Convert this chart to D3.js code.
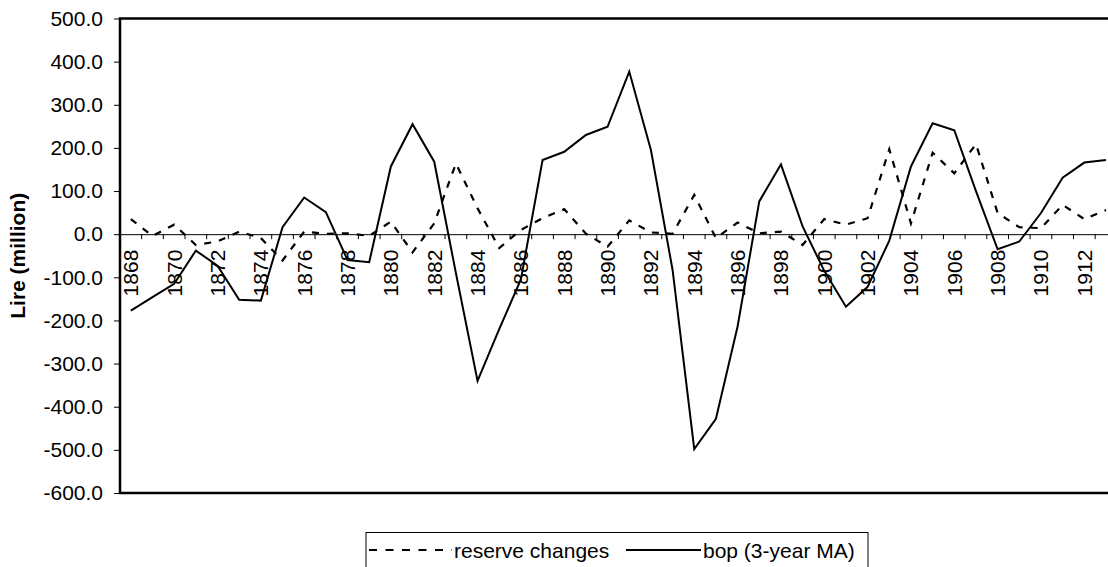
<!DOCTYPE html>
<html><head><meta charset="utf-8">
<script src="https://cdn.jsdelivr.net/npm/d3@7"></script>
<style>html,body{margin:0;padding:0;background:#fff;overflow:hidden}</style>
</head><body>
<svg id="c" width="1108" height="567"></svg>
<script>
const years = d3.range(1868, 1914);
const reserveChanges = [35,-4,22,-25,-17,6,-9,-61,6,1,2,-4,29,-42,25,164,60,-32,10,37,58,1,-29,32,4,1,91,-9,27,2,6,-25,35,22,37,197,25,189,141,209,49,16,14,68,35,56];
const bopMA = [-177,-146,-115,-38,-73,-152,-154,16,85,51,-60,-65,157,255,168,-90,-340,-220,-105,172,191,230,249,377,195,-83,-498,-428,-214,76,162,18,-85,-168,-122,-15,157,257,241,100,-35,-17,49,131,166,172];
const yTicks = [-600,-500,-400,-300,-200,-100,0,100,200,300,400,500];
const labelYears = years.filter((v,i)=>i%2===0);
const seriesNames = ["reserve changes","bop (3-year MA)"];

(function(){
const svg = d3.select("#c");
const font = "Arial, 'Liberation Sans', sans-serif";
const fs = 21;
const pLeft = 120, pTop = 18.5, pBottom = 493, step = 21.67;
const x = d3.scaleBand().domain(years).range([pLeft, pLeft + years.length*step]).paddingInner(0).paddingOuter(0);
const y = d3.scaleLinear().domain([-600,500]).range([pBottom, pTop]);
const cx = d => x(d) + x.bandwidth()/2;

// y axis
const yAxis = svg.append("g").attr("transform",`translate(${pLeft},0)`)
  .call(d3.axisLeft(y).tickValues(yTicks).tickFormat(d=>d.toFixed(1)).tickSizeInner(6).tickSizeOuter(0).tickPadding(11));
yAxis.select(".domain").remove();
yAxis.selectAll("line").attr("stroke","#000");
yAxis.selectAll("text").attr("font-family",font).attr("font-size",fs).attr("fill","#000");

// zero axis with category ticks
const xAxis = svg.append("g").attr("transform",`translate(0,${y(0)})`)
  .call(d3.axisBottom(x).tickValues([]).tickSizeOuter(0));
xAxis.select(".domain").attr("stroke","#000").attr("stroke-width",1);
const bounds = d3.range(years.length+1).map(i => pLeft + i*x.bandwidth());
xAxis.selectAll(".bt").data(bounds).enter().append("line").attr("class","bt")
  .attr("x1",d=>d).attr("x2",d=>d).attr("y1",0).attr("y2",5).attr("stroke","#000").attr("stroke-width",1);
xAxis.selectAll(".yl").data(labelYears).enter().append("text").attr("class","yl")
  .attr("transform",d=>`translate(${cx(d)+7.5},15.5) rotate(-90)`)
  .attr("text-anchor","end").attr("font-family",font).attr("font-size",fs).attr("fill","#000")
  .text(d=>d);

// frame
svg.append("path").attr("d",`M${pLeft+1000},${pTop} H${pLeft} V${pBottom} H${pLeft+1000}`)
  .attr("fill","none").attr("stroke","#000").attr("stroke-width",2.5);

// lines
const line = arr => d3.line().x((d,i)=>cx(years[i])).y(d=>y(d))(arr);
svg.append("path").attr("d",line(reserveChanges)).attr("fill","none").attr("stroke","#000")
  .attr("stroke-width",2.2).attr("stroke-dasharray","7,8");
svg.append("path").attr("d",line(bopMA)).attr("fill","none").attr("stroke","#000")
  .attr("stroke-width",2);

// y title
svg.append("text").attr("transform",`translate(25,${(pTop+pBottom)/2}) rotate(-90)`)
  .attr("text-anchor","middle").attr("font-family",font).attr("font-size",fs).attr("font-weight","bold")
  .attr("fill","#000").text("Lire (million)");

// legend
const lg = svg.append("g");
lg.append("rect").attr("x",366).attr("y",532.5).attr("width",502).attr("height",60)
  .attr("fill","#fff").attr("stroke","#000").attr("stroke-width",1);
lg.append("line").attr("x1",369).attr("x2",452).attr("y1",550).attr("y2",550)
  .attr("stroke","#000").attr("stroke-width",2).attr("stroke-dasharray","8,8.5");
lg.append("text").attr("x",454).attr("y",557.5).attr("font-family",font).attr("font-size",fs).text(seriesNames[0]);
lg.append("line").attr("x1",626).attr("x2",701).attr("y1",550).attr("y2",550)
  .attr("stroke","#000").attr("stroke-width",2);
lg.append("text").attr("x",703).attr("y",557.5).attr("font-family",font).attr("font-size",fs).text(seriesNames[1]);
})();
</script>
</body></html>
